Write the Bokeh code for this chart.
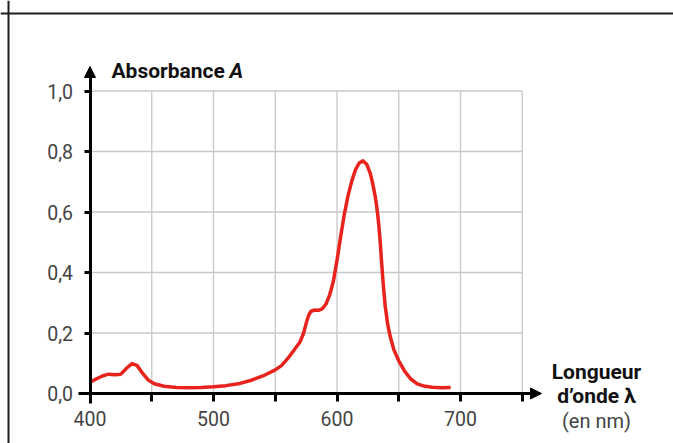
from bokeh.plotting import figure
from bokeh.models import LinearAxis, FixedTicker, Range1d, Arrow, NormalHead, Label, Span
from bokeh.embed import file_html
from bokeh.resources import INLINE

wavelength = [400, 405, 410, 415, 420, 425, 430, 434, 438, 442, 447, 452, 460, 470, 480, 490, 500,
              510, 520, 530, 540, 550, 555, 560, 565, 570, 573, 575, 577, 579, 582, 585, 588, 591,
              594, 597, 600, 603, 606, 609, 612, 615, 618, 621, 624, 627, 629, 631, 632, 633, 634,
              635, 636, 637, 638, 639, 641, 643, 646, 650, 655, 660, 665, 670, 677, 685, 692]
absorbance = [0.037, 0.048, 0.058, 0.064, 0.062, 0.064, 0.085, 0.099, 0.093, 0.070, 0.045, 0.032,
              0.024, 0.020, 0.019, 0.020, 0.022, 0.026, 0.032, 0.043, 0.058, 0.078, 0.092, 0.115,
              0.142, 0.170, 0.200, 0.232, 0.258, 0.272, 0.276, 0.275, 0.280, 0.295, 0.325, 0.370,
              0.440, 0.520, 0.594, 0.655, 0.703, 0.740, 0.762, 0.769, 0.758, 0.727, 0.692, 0.650,
              0.622, 0.590, 0.550, 0.500, 0.440, 0.385, 0.335, 0.290, 0.230, 0.190, 0.145, 0.108,
              0.072, 0.047, 0.032, 0.025, 0.021, 0.019, 0.020]

x_ticks = [400, 450, 500, 550, 600, 650, 700, 750]
x_tick_labels = {400: "400", 450: "", 500: "500", 550: "", 600: "600", 650: "", 700: "700", 750: ""}
y_ticks = [0.0, 0.2, 0.4, 0.6, 0.8, 1.0]
y_tick_labels = {0.0: "0,0", 0.2: "0,2", 0.4: "0,4", 0.6: "0,6", 0.8: "0,8", 1.0: "1,0"}

W, H = 673, 443
sx, sy = 1.235, 302.5
x0 = 400 - 89.5 / sx
x1 = x0 + W / sx
y1 = 393 / sy
y0 = y1 - H / sy

p = figure(width=W, height=H, x_range=Range1d(x0, x1), y_range=Range1d(y0, y1),
           output_backend="svg", toolbar_location=None, x_axis_type=None, y_axis_type=None,
           min_border=0)
p.outline_line_color = None
p.background_fill_color = "white"

# grid
p.segment(x0=x_ticks[1:], y0=[y_ticks[0]] * 7, x1=x_ticks[1:], y1=[y_ticks[-1]] * 7,
          line_color="#c8c8c8", line_width=1.3)
p.segment(x0=[x_ticks[0]] * 5, y0=y_ticks[1:], x1=[x_ticks[-1]] * 5, y1=y_ticks[1:],
          line_color="#c8c8c8", line_width=1.3)

# curve
p.line(wavelength, absorbance, line_color="#e8231d", line_width=3.5, line_join="round")

common = dict(axis_line_width=3, axis_line_color="black", major_tick_line_width=3,
              major_tick_line_color="black", major_tick_in=0, minor_tick_out=0, minor_tick_in=0,
              major_label_text_font="Roboto", major_label_text_font_size="19.5px",
              major_label_text_color="#444444")
xaxis = LinearAxis(fixed_location=0, ticker=FixedTicker(ticks=x_ticks),
                   major_label_overrides=x_tick_labels, bounds=(390.7, 760),
                   major_tick_out=8, major_label_standoff=9, **common)
yaxis = LinearAxis(fixed_location=400, ticker=FixedTicker(ticks=y_ticks),
                   major_label_overrides=y_tick_labels, bounds=(-0.033, 1.07),
                   major_tick_out=6, major_label_standoff=11, **common)
p.add_layout(xaxis, "below")
p.add_layout(yaxis, "left")

p.add_layout(Arrow(end=NormalHead(size=11, fill_color="black", line_color="black", line_width=1),
                   x_start=755, y_start=0, x_end=765.6, y_end=0, line_width=3))
p.add_layout(Arrow(end=NormalHead(size=11, fill_color="black", line_color="black", line_width=1),
                   x_start=400, y_start=1.06, x_end=400, y_end=1.081, line_width=3))

# frame border
p.add_layout(Span(location=y1 - 13 / sy, dimension="width", line_color="#1e1e1e", line_width=2))
p.add_layout(Span(location=x0 + 8 / sx, dimension="height", line_color="#1e1e1e", line_width=2))

def px2x(px):
    return 400 + (px - 89.5) / sx

def py2y(py):
    return (393 - py) / sy

p.add_layout(Label(x=px2x(111), y=py2y(70), text="Absorbance", text_font="Roboto",
                   text_font_style="bold", text_font_size="21px", text_color="#111111",
                   text_baseline="alphabetic"))
p.add_layout(Label(x=px2x(229), y=py2y(70), text="A", text_font="Roboto",
                   text_font_style="bold italic", text_font_size="21px", text_color="#111111",
                   text_baseline="alphabetic"))
p.add_layout(Label(x=px2x(596), y=py2y(371.5), text="Longueur", text_font="Roboto",
                   text_font_style="bold", text_font_size="21px", text_color="#111111",
                   text_align="center", text_baseline="alphabetic"))
p.add_layout(Label(x=px2x(596), y=py2y(395), text="d\u2019onde \u03bb", text_font="Roboto",
                   text_font_style="bold", text_font_size="21px", text_color="#111111",
                   text_align="center", text_baseline="alphabetic"))
p.add_layout(Label(x=px2x(596), y=py2y(420), text="(en nm)", text_font="Roboto",
                   text_font_size="20px", text_color="#444444",
                   text_align="center", text_baseline="alphabetic"))

open("out.html", "w").write(file_html(p, INLINE))
